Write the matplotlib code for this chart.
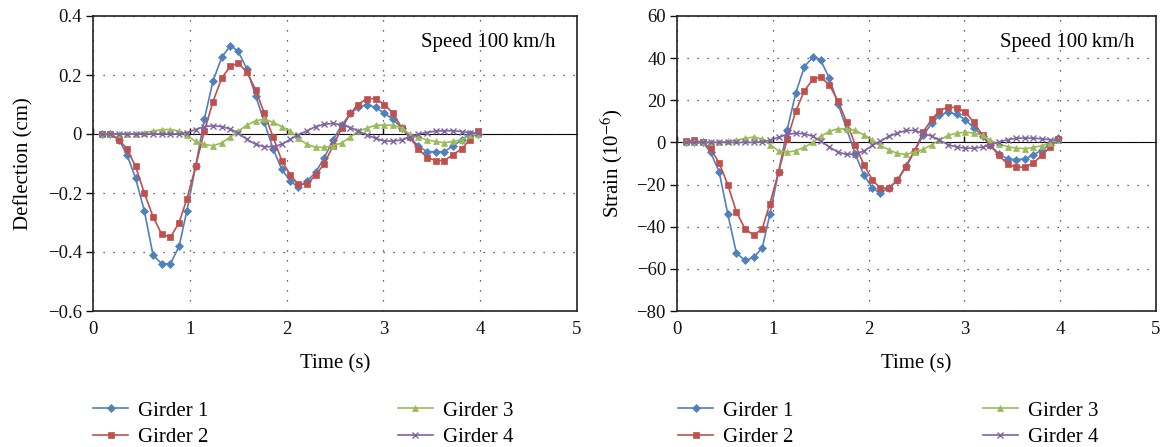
import matplotlib
matplotlib.use("Agg")
import matplotlib.pyplot as plt

plt.rcParams['font.family'] = ['Liberation Serif', 'DejaVu Serif']
plt.rcParams['mathtext.fontset'] = 'stix'

time_s = [0.09, 0.18, 0.27, 0.35, 0.44, 0.53, 0.62, 0.71, 0.80, 0.89,
          0.97, 1.06, 1.15, 1.24, 1.33, 1.42, 1.50, 1.59, 1.68, 1.77,
          1.86, 1.95, 2.04, 2.12, 2.21, 2.30, 2.39, 2.48, 2.57, 2.66,
          2.74, 2.83, 2.92, 3.01, 3.10, 3.19, 3.27, 3.36, 3.45, 3.54,
          3.63, 3.72, 3.81, 3.89, 3.98]

defl_g1 = [0.0, 0.0, -0.02, -0.07, -0.15, -0.26, -0.41, -0.44, -0.44, -0.38,
           -0.26, -0.11, 0.05, 0.18, 0.26, 0.30, 0.28, 0.22, 0.13, 0.04,
           -0.05, -0.12, -0.16, -0.18, -0.16, -0.13, -0.08, -0.02, 0.03, 0.07,
           0.09, 0.10, 0.09, 0.07, 0.05, 0.02, -0.01, -0.04, -0.06, -0.06,
           -0.06, -0.04, -0.02, 0.0, 0.0]
defl_g2 = [0.0, 0.0, -0.02, -0.05, -0.11, -0.20, -0.28, -0.34, -0.35, -0.30,
           -0.22, -0.11, 0.01, 0.11, 0.19, 0.23, 0.24, 0.21, 0.15, 0.07,
           -0.01, -0.09, -0.14, -0.17, -0.17, -0.14, -0.10, -0.04, 0.02, 0.07,
           0.10, 0.12, 0.12, 0.10, 0.07, 0.02, -0.01, -0.05, -0.08, -0.09,
           -0.09, -0.07, -0.05, -0.02, 0.01]
defl_g3 = [0.0, 0.0, 0.0, 0.0, 0.0, 0.005, 0.01, 0.015, 0.015, 0.01,
           -0.005, -0.025, -0.035, -0.04, -0.03, -0.01, 0.01, 0.03, 0.045, 0.05,
           0.04, 0.025, 0.01, -0.015, -0.035, -0.045, -0.045, -0.04, -0.03, -0.01,
           0.01, 0.02, 0.03, 0.03, 0.03, 0.02, 0.0, -0.01, -0.02, -0.025,
           -0.03, -0.025, -0.02, -0.005, 0.0]
defl_g4 = [0.0, 0.0, 0.0, 0.0, 0.0, 0.0, 0.0, 0.0, 0.0, 0.0,
           0.005, 0.015, 0.025, 0.028, 0.025, 0.017, 0.002, -0.018, -0.035, -0.043,
           -0.043, -0.035, -0.018, -0.003, 0.011, 0.025, 0.033, 0.036, 0.031, 0.022,
           0.01, -0.003, -0.015, -0.024, -0.024, -0.02, -0.011, -0.001, 0.005, 0.01,
           0.011, 0.011, 0.008, 0.005, 0.002]

strain_g1 = [0.0, 0.0, 0.0, -4.6, -14, -34, -52.5, -56, -54.6, -50,
             -34, -14, 6, 23.5, 36, 40.5, 39, 30.5, 18.4, 6.5,
             -5.4, -15.4, -21.7, -24, -21.7, -18, -11, -4, 3.3, 9.2,
             12.8, 14.4, 13.3, 10.8, 6.8, 2.9, -1.4, -5.4, -7.8, -8.2,
             -7.8, -6, -3.5, -1.1, 2]
strain_g2 = [0.5, 1, 0, -2.7, -9.8, -20, -33, -41, -44, -41,
             -29, -14, 1.4, 14.8, 24.6, 30, 31, 27.3, 19.7, 9.7,
             -1, -10.6, -17.8, -21.7, -21.7, -18, -11.7, -4, 5, 11,
             15, 16.8, 16.5, 14.3, 9.5, 3.3, -1.4, -6.2, -10.2, -11.7,
             -11.7, -9.8, -6, -2.4, 1.7]
strain_g3 = [0, 0, 0, 0, 0, 0.5, 1, 2, 2.5, 1.7,
             -1, -4, -4.6, -4, -2.2, 0, 2.9, 5.2, 6.5, 6.5,
             5.7, 3.7, 1, -1.4, -3.5, -5.2, -5.7, -4.6, -3.3, -1.1,
             1.2, 3.3, 4.4, 4.9, 4.4, 3.3, 1, -0.8, -2, -2.7,
             -2.9, -2.4, -1.5, -0.3, 1]
strain_g4 = [0, 0, 0, 0, 0, 0, 0, 0, 0, 0.3,
             1, 2.5, 3.8, 4.4, 4.1, 2.9, 0.6, -2.2, -4.6, -5.7,
             -5.4, -4.1, -1.4, 0.5, 2.9, 4.4, 5.7, 5.7, 4.4, 2.9,
             1, -1, -2.2, -2.7, -2.7, -2.2, -1.1, 0.2, 1.3, 2,
             2.1, 2, 1.7, 1.3, 1]

labels = ['Girder 1', 'Girder 2', 'Girder 3', 'Girder 4']
colors = ['#4F81BD', '#C0504D', '#9BBB59', '#8064A2']
markers = ['D', 's', '^', 'x']
msizes = [4, 4.5, 5, 5]

W, H = 1161, 447
fig = plt.figure(figsize=(W / 100, H / 100), dpi=100)


def make_axes(rect_px, series, ylim, yticks, yfmt, ylabel, ylabelpad):
    x0, x1, y0, y1 = rect_px
    ax = fig.add_axes([x0 / W, 1 - y1 / H, (x1 - x0) / W, (y1 - y0) / H])
    handles = []
    for s, c, m, ms, lab in zip(series, colors, markers, msizes, labels):
        h, = ax.plot(time_s, s, color=c, marker=m, markersize=ms, lw=1.2,
                     markeredgewidth=1.0 if m == 'x' else 0.5, label=lab)
        handles.append(h)
    ax.set_xlim(0, 5)
    ax.set_ylim(*ylim)
    ax.set_xticks([0, 1, 2, 3, 4, 5])
    ax.set_yticks(yticks)
    ax.set_yticklabels([yfmt(v).replace('-', '\u2212') for v in yticks])
    ax.grid(True, color='#333333', linestyle=(0, (1, 7)), lw=0.9)
    for sp in ax.spines.values():
        sp.set_color('#222222')
        sp.set_linewidth(1.2)
    ax.tick_params(axis='x', length=0, labelsize=13.5, pad=7, colors='#111111')
    ax.tick_params(axis='y', length=5, width=1, direction='out', labelsize=13.5,
                   pad=3, colors='#111111')
    ax.set_xlabel('Time (s)', fontsize=15, labelpad=12)
    ax.set_ylabel(ylabel, fontsize=15, labelpad=ylabelpad)
    # zero axis line (Excel category axis crossing at 0) with tick marks
    zero_loc = (0 - ylim[0]) / (ylim[1] - ylim[0])
    sec = ax.secondary_xaxis(zero_loc)
    sec.set_xticks([0, 1, 2, 3, 4])
    sec.tick_params(length=4, width=1, direction='out', labelbottom=False,
                    labeltop=False, colors='black')
    sec.spines['bottom'].set_linewidth(1.3)
    sec.spines['bottom'].set_color('black')
    sec.spines['bottom'].set_bounds(0, 4)
    ax.text(0.955, 0.91, 'Speed 100\u2009km/h', transform=ax.transAxes,
            ha='right', va='center', fontsize=15)
    return ax, handles


axL, hL = make_axes((93, 577, 16, 311), [defl_g1, defl_g2, defl_g3, defl_g4],
                    (-0.6, 0.4), [-0.6, -0.4, -0.2, 0, 0.2, 0.4],
                    lambda v: '0' if v == 0 else f'{v:.1f}', 'Deflection (cm)', 10)
axR, hR = make_axes((677, 1156, 16, 311), [strain_g1, strain_g2, strain_g3, strain_g4],
                    (-80, 60), [-80, -60, -40, -20, 0, 20, 40, 60],
                    lambda v: f'{v:d}', 'Strain (10$^{-6}$)', 8)

for hs, x0, cs in ((hL, 93, 9.1), (hR, 678, 9.1)):
    leg = fig.legend(hs, [h.get_label() for h in hs], ncol=2,
                     loc='upper left', bbox_to_anchor=(x0 / W, 1 - 401 / H),
                     frameon=False, fontsize=15, handlelength=1.7,
                     handletextpad=0.45, columnspacing=cs, labelspacing=0.32,
                     borderpad=0, borderaxespad=0)

fig.savefig('out.png', dpi=100)
